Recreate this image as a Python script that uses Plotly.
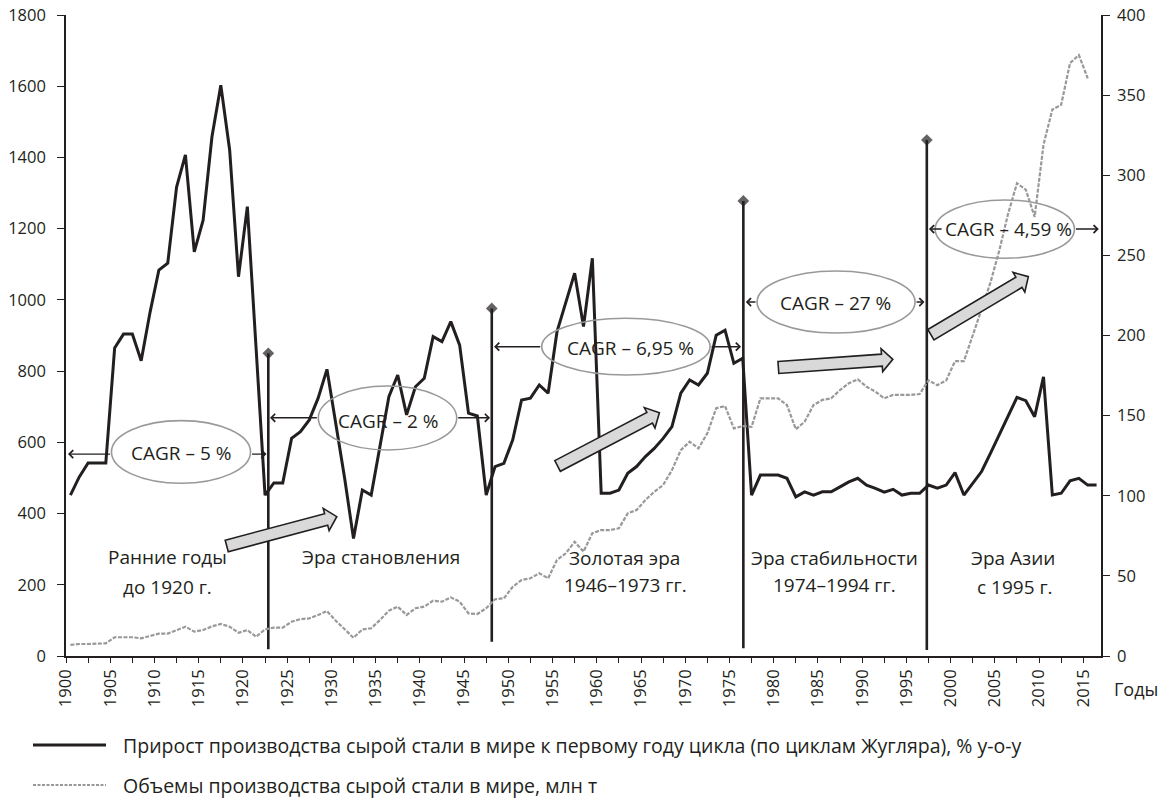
import math
import plotly.graph_objects as go

# ---------------- data ----------------
years = list(range(1900, 2017))
growth_pct = [
    452, 503, 542, 542, 542, 865, 904, 904, 829, 965,
    1084, 1103, 1317, 1407, 1135, 1224, 1458, 1603, 1421, 1065,
    1262, 860, 452, 486, 486, 611, 630, 663, 724, 805,
    657, 499, 330, 466, 452, 588, 728, 789, 677, 756,
    780, 897, 883, 939, 873, 682, 674, 452, 532, 541,
    607, 719, 724, 761, 738, 910, 990, 1075, 925, 1117,
    457, 457, 466, 513, 532, 560, 583, 611, 644, 738,
    775, 761, 794, 901, 915, 822, 836, 452, 508, 508,
    508, 499, 447, 461, 452, 461, 461, 475, 489, 499,
    480, 471, 460, 468, 452, 457, 457, 480, 471, 480,
    515, 452, 485, 518, 569, 621, 672, 726, 717, 672,
    784, 452, 457, 492, 499, 480, 480,
]
volume_years = list(range(1900, 2016))
volume_mt = [
    6.9, 7.5, 7.5, 7.5, 7.9, 11.7, 11.7, 11.7, 11.0, 12.5,
    14.0, 14.0, 16.0, 18.3, 15.2, 16.2, 18.5, 20.0, 18.3, 14.5,
    16.2, 12.0, 16.6, 17.7, 17.7, 21.4, 23.0, 23.5, 25.6, 28.0,
    22.0, 16.5, 11.4, 16.6, 17.3, 22.5, 28.3, 30.8, 25.6, 29.8,
    30.8, 34.5, 33.9, 36.6, 33.9, 26.6, 26.2, 29.8, 35.4, 36.0,
    43.2, 47.4, 48.5, 51.6, 48.5, 59.9, 64.1, 71.3, 65.1, 76.6,
    78.6, 78.6, 79.7, 89.0, 91.1, 97.3, 102.5, 106.7, 116.0, 128.5,
    133.7, 129.6, 139.0, 154.6, 156.0, 142.0, 143.5, 143.0, 160.8, 160.8,
    160.8, 156.6, 141.5, 146.2, 156.6, 159.8, 160.8, 166.0, 170.2, 172.7,
    168.0, 165.0, 160.8, 162.9, 162.9, 162.9, 163.5, 172.0, 169.0, 172.0,
    184.0, 184.0, 200.0, 217.0, 233.0, 253.0, 276.0, 295.0, 291.0, 274.0,
    319.0, 341.0, 344.0, 370.0, 375.0, 360.5,
]
label_years = list(range(1900, 2016, 5))
left_ticks = list(range(0, 1801, 200))
right_ticks = list(range(0, 401, 50))

series_names = [
    "Прирост производства сырой стали в мире к первому году цикла (по циклам Жугляра), % у-о-у",
    "Объемы производства сырой стали в мире, млн т",
]

# cycle separators (x in years, y on left axis)
sep_x = [1922.37, 1947.63, 1976.07, 1996.81]
sep_top = [850, 976, 1278, 1449]
sep_bottom = [19, 40, 22, 17]

# CAGR labels
cagr_text = ["CAGR – 5 %", "CAGR – 2 %", "CAGR – 6,95 %", "CAGR – 27 %", "CAGR – 4,59 %"]
cagr_pos = [(1912.5, 569), (1935.9, 660), (1963.3, 866), (1986.5, 990), (2006.0, 1199)]
ellipses = [
    (1904.64, 1920.36, 485, 661),
    (1928.02, 1943.67, 578.5, 758.2),
    (1953.28, 1972.31, 789.1, 948.3),
    (1977.62, 1995.48, 907, 1081),
    (1997.75, 2013.50, 1116.8, 1280.6),
]
# horizontal arrows: (from_x, to_x, y) arrowhead at to_x
h_arrows = [
    (1904.64, 1899.73, 567), (1920.36, 1922.17, 567),
    (1928.02, 1922.56, 669), (1943.67, 1947.44, 669),
    (1953.28, 1947.89, 868.6), (1972.31, 1975.81, 868.6),
    (1977.62, 1976.35, 994), (1995.48, 1996.55, 994),
    (1998.65, 1997.05, 1199), (2013.5, 2016.25, 1199),
]
# trend block arrows: (tail_x, tail_y, tip_x, tip_y)
block_arrows = [
    (1917.67, 308.9, 1930.11, 391.2),
    (1955.07, 533.6, 1966.58, 683.2),
    (1980.03, 810.2, 1992.97, 833.0),
    (1997.27, 902.3, 2008.29, 1065.2),
]
# era labels
era_lines = [
    ("Ранние годы", 1910.92, 278), ("до 1920 г.", 1910.92, 193),
    ("Эра становления", 1935.1, 278),
    ("Золотая эра", 1962.6, 276), ("1946–1973 гг.", 1962.7, 200),
    ("Эра стабильности", 1986.4, 276), ("1974–1994 гг.", 1986.4, 200),
    ("Эра Азии", 2006.6, 276), ("с 1995 г.", 2006.8, 193),
]

# ---------------- layout constants ----------------
FIG_W, FIG_H = 1161, 798
M_L, M_R, M_T, M_B = 66, 60, 15, 142
X_RANGE = [1899.5, 2016.5]
Y_RANGE = [0, 1800]
Y2_RANGE = [0, 400]
INK = "#231f20"
GREY = "#999999"
FONT = "Open Sans, Noto Sans, sans-serif"

W_PLOT = FIG_W - M_L - M_R
H_PLOT = FIG_H - M_T - M_B
sx = W_PLOT / (X_RANGE[1] - X_RANGE[0])
sy = H_PLOT / (Y_RANGE[1] - Y_RANGE[0])

fig = go.Figure()

fig.add_trace(go.Scatter(
    x=volume_years, y=volume_mt, yaxis="y2", mode="lines",
    line=dict(color=GREY, width=2.2, dash="4px,1.5px"),
    name=series_names[1], showlegend=False, hoverinfo="skip"))

fig.add_trace(go.Scatter(
    x=years, y=growth_pct, mode="lines",
    line=dict(color=INK, width=3),
    name=series_names[0], showlegend=False, hoverinfo="skip"))

for xv, top, bot in zip(sep_x, sep_top, sep_bottom):
    fig.add_trace(go.Scatter(
        x=[xv, xv], y=[bot, top], mode="lines+markers",
        line=dict(color=INK, width=2.6),
        marker=dict(symbol="diamond", size=[0, 9], color=INK, line=dict(width=0)),
        showlegend=False, hoverinfo="skip"))

shapes = []
annotations = []

for (x0, x1, y0, y1) in ellipses:
    shapes.append(dict(type="circle", xref="x", yref="y", x0=x0, x1=x1, y0=y0, y1=y1,
                       line=dict(color=GREY, width=1.6), fillcolor="rgba(0,0,0,0)"))


def block_arrow(x0, y0, x1, y1, shaft=6.0, head=11.5, head_len=11.0):
    p0x, p0y = (x0 - X_RANGE[0]) * sx, y0 * sy
    p1x, p1y = (x1 - X_RANGE[0]) * sx, y1 * sy
    dx, dy = p1x - p0x, p1y - p0y
    L = math.hypot(dx, dy)
    ux, uy = dx / L, dy / L
    nx, ny = -uy, ux
    bx, by = p1x - ux * head_len, p1y - uy * head_len
    pts = [
        (p0x + nx * shaft, p0y + ny * shaft),
        (bx + nx * shaft, by + ny * shaft),
        (bx + nx * head, by + ny * head),
        (p1x, p1y),
        (bx - nx * head, by - ny * head),
        (bx - nx * shaft, by - ny * shaft),
        (p0x - nx * shaft, p0y - ny * shaft),
    ]
    pts = [(px / sx + X_RANGE[0], py / sy) for px, py in pts]
    return "M " + " L ".join(f"{a:.4f},{b:.4f}" for a, b in pts) + " Z"


for (a, b, c, d) in block_arrows:
    shapes.append(dict(type="path", xref="x", yref="y", path=block_arrow(a, b, c, d),
                       fillcolor="#d9d9d9", line=dict(color=INK, width=1.6)))

for (fx, tx, yy) in h_arrows:
    annotations.append(dict(x=tx, y=yy, ax=fx, ay=yy, xref="x", yref="y", axref="x", ayref="y",
                            text="", showarrow=True, arrowhead=4, arrowsize=1.1,
                            arrowwidth=1.4, arrowcolor=INK, standoff=0, startstandoff=0))

for txt, (tx, ty) in zip(cagr_text, cagr_pos):
    annotations.append(dict(x=tx, y=ty, xref="x", yref="y", text=txt, showarrow=False,
                            xanchor="center", yanchor="middle",
                            font=dict(family=FONT, size=19, color=INK)))

for txt, tx, ty in era_lines:
    annotations.append(dict(x=tx, y=ty, xref="x", yref="y", text=txt, showarrow=False,
                            xanchor="center", yanchor="middle",
                            font=dict(family=FONT, size=19, color=INK)))

# axis title "Годы"
annotations.append(dict(x=(1136 - M_L) / W_PLOT, y=(656 - 689) / H_PLOT, xref="paper", yref="paper",
                        text="Годы", showarrow=False, xanchor="center", yanchor="middle",
                        font=dict(family=FONT, size=18, color=INK)))

# legend (drawn manually)
leg_y = [(M_T + H_PLOT - 745) / H_PLOT, (M_T + H_PLOT - 785) / H_PLOT]
leg_x0, leg_x1, leg_tx = (33 - M_L) / W_PLOT, (106 - M_L) / W_PLOT, (121 - M_L) / W_PLOT
shapes.append(dict(type="line", xref="paper", yref="paper", x0=leg_x0, x1=leg_x1, y0=leg_y[0], y1=leg_y[0],
                   line=dict(color=INK, width=3)))
shapes.append(dict(type="line", xref="paper", yref="paper", x0=leg_x0, x1=leg_x1, y0=leg_y[1], y1=leg_y[1],
                   line=dict(color=GREY, width=2, dash="3px,1.5px")))
for name, ly in zip(series_names, leg_y):
    annotations.append(dict(x=leg_tx, y=ly, xref="paper", yref="paper", text=name, showarrow=False,
                            xanchor="left", yanchor="middle",
                            font=dict(family=FONT, size=19.5, color=INK)))

# x ticks every 2.5 years, labels every 5 years (labels sit at category edges)
xtickvals, xticktext = [], []
for y in label_years:
    xtickvals += [y - 0.5, y + 2.0]
    xticktext += [str(y), ""]

fig.update_layout(
    width=FIG_W, height=FIG_H, autosize=False,
    margin=dict(l=M_L, r=M_R, t=M_T, b=M_B, pad=0, autoexpand=False),
    paper_bgcolor="white", plot_bgcolor="white",
    font=dict(family=FONT, size=16, color=INK),
    showlegend=False,
    shapes=shapes, annotations=annotations,
    xaxis=dict(range=X_RANGE, tickmode="array", tickvals=xtickvals, ticktext=xticktext,
               tickangle=-90, ticks="outside", ticklen=5, tickwidth=1.3, tickcolor=INK,
               showline=True, linecolor=INK, linewidth=1.6, showgrid=False, zeroline=False,
               automargin=False, tickfont=dict(size=16.5)),
    yaxis=dict(range=Y_RANGE, tickmode="array", tickvals=left_ticks, ticks="outside",
               ticklen=7, tickwidth=1.3, tickcolor=INK, showline=True, linecolor=INK, linewidth=1.6,
               showgrid=False, zeroline=False, ticklabelstandoff=8, automargin=False,
               tickfont=dict(size=16.5)),
    yaxis2=dict(range=Y2_RANGE, overlaying="y", side="right", tickmode="array", tickvals=right_ticks,
                ticks="outside", ticklen=7, tickwidth=1.3, tickcolor=INK, showline=True, linecolor=INK,
                linewidth=1.6, showgrid=False, zeroline=False, ticklabelstandoff=4, automargin=False,
                tickfont=dict(size=16.5)),
)

fig.write_html("out.html", config={"displayModeBar": False},
               post_script="document.body.style.margin='0';")
